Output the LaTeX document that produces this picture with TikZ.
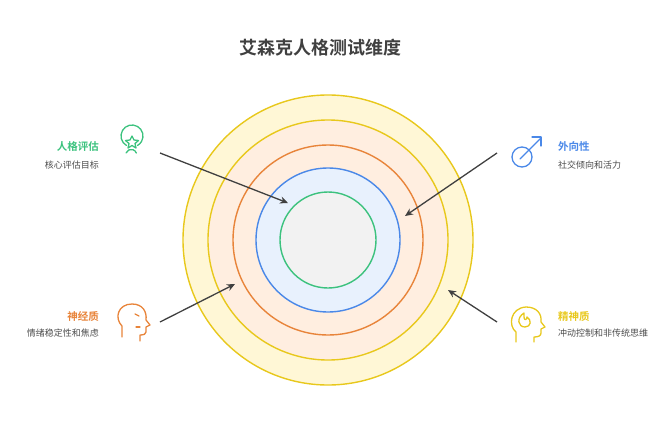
\documentclass[tikz,border=0pt]{standalone}
\usepackage{fontspec}
\setmainfont{Noto Sans CJK SC}
\newfontfamily\cjkb{Noto Sans CJK SC Bold}
\usetikzlibrary{arrows.meta}
\definecolor{cy}{HTML}{E8C81C}
\definecolor{cyf}{HTML}{FFF7D6}
\definecolor{cof}{HTML}{FFEEE0}
\definecolor{co}{HTML}{E8843A}
\definecolor{cb}{HTML}{4A88E8}
\definecolor{cbf}{HTML}{E8F1FD}
\definecolor{cg}{HTML}{3CC27E}
\definecolor{cgf}{HTML}{E2F8EE}
\definecolor{cgr}{HTML}{F2F2F2}
\tikzset{ring/.style={circle,draw,line width=1.4pt,inner sep=0pt},
 arr/.style={draw=black!75,line width=1.3pt,-{Stealth[length=8pt,width=7pt]}},
 ttl/.style={font=\cjkb\fontsize{10.5}{11}\selectfont,inner sep=0pt},
 sub/.style={font=\fontsize{9}{10}\selectfont,text=black!70,inner sep=0pt},
 ic/.style={line width=1.3pt,line cap=round,line join=round}}
\begin{document}
\begin{tikzpicture}[x=1pt,y=-1pt]
\useasboundingbox (0,0) rectangle (666,431);
\node[font=\cjkb\fontsize{18}{19}\selectfont,text=black!75] (t) at (320,48) {艾森克人格测试维度};
\node[ring,draw=cy,fill=cyf,minimum size=290pt] (r1) at (328,240) {};
\node[ring,draw=cy,fill=cof,minimum size=240pt] (r2) at (328,240) {};
\node[ring,draw=co,fill=cof,minimum size=190pt] (r3) at (328,240) {};
\node[ring,draw=cb,fill=cbf,minimum size=144pt] (r4) at (328,240) {};
\node[ring,draw=cg,fill=cgr,minimum size=96pt] (r5) at (328,240) {};
\coordinate (a1) at (288,203);
\coordinate (a2) at (405,216);
\coordinate (a3) at (235,284);
\coordinate (a4) at (448,290);
\coordinate (s1) at (160,153);
\coordinate (s2) at (497,153);
\coordinate (s3) at (160,322);
\coordinate (s4) at (497,322);
\draw[arr] (s1) -- (a1);
\draw[arr] (s2) -- (a2);
\draw[arr] (s3) -- (a3);
\draw[arr] (s4) -- (a4);
\node[ttl,text=cg,anchor=east] (l1) at (99,147) {人格评估};
\node[sub,anchor=east] (d1) at (99,165) {核心评估目标};
\node[ttl,text=cb,anchor=west] (l2) at (558,147) {外向性};
\node[sub,anchor=west] (d2) at (558,165) {社交倾向和活力};
\node[ttl,text=co,anchor=east] (l3) at (99,316) {神经质};
\node[sub,anchor=east] (d3) at (99,333) {情绪稳定性和焦虑};
\node[ttl,text=cy,anchor=west] (l4) at (558,316) {精神质};
\node[sub,anchor=west] (d4) at (558,333) {冲动控制和非传统思维};
\begin{scope}[ic,draw=cg]
\draw (126.5,145.5) arc (120:420:11);
\draw (126,153) arc (200:340:5.5);
\draw (132,136) -- (134,140) -- (138.5,140.5) -- (135,143.5) -- (136,148) -- (132,145.5) -- (128,148) -- (129,143.5) -- (125.5,140.5) -- (130,140) -- cycle;
\end{scope}
\begin{scope}[ic,draw=cb]
\draw (522,157) circle (10);
\draw (520,159) -- (541,138);
\draw (532,137) -- (541,137) -- (541,146);
\end{scope}
\begin{scope}[ic,draw=co]
\draw (122,337) -- (122,326) .. controls (114,318) and (118,304) .. (132,304) .. controls (143,304) and (147,312) .. (146,320) -- (150,325) -- (146,327) -- (146,332) .. controls (146,334) and (144,335) .. (140,335) -- (140,341);
\draw (135,314) -- (139,316);
\draw (136,327) -- (140,327);
\end{scope}
\begin{scope}[ic,draw=cy]
\draw (516,342) -- (516,332) .. controls (508,326) and (510,308) .. (526,307) .. controls (537,307) and (542,314) .. (541,322) -- (545,327) -- (541,329) -- (541,333) .. controls (541,336) and (538,337) .. (534,337) -- (534,342);
\draw (524,313) .. controls (516,318) and (518,327) .. (525,327) .. controls (531,327) and (532,320) .. (527,317) .. controls (527,320) and (524,321) .. (524,317) -- cycle;
\end{scope}
\end{tikzpicture}
\end{document}
